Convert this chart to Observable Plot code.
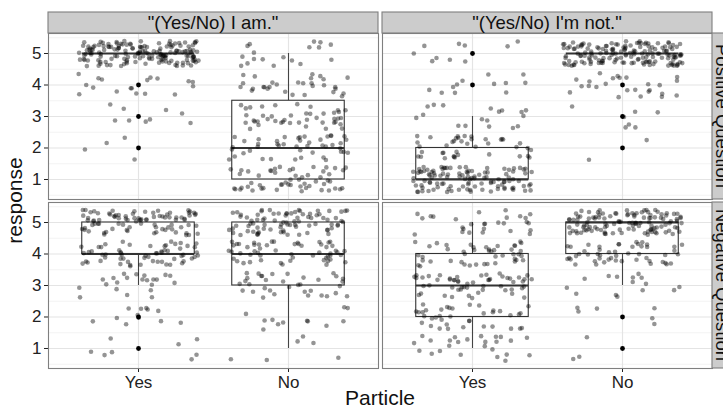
<!DOCTYPE html>
<html><head><meta charset="utf-8">
<script src="https://cdn.jsdelivr.net/npm/d3@7"></script>
<script src="https://cdn.jsdelivr.net/npm/@observablehq/plot@0.6"></script>
<style>body{margin:0;background:#fff} svg{display:block}</style>
</head><body><div id="chart"></div>
<script>
// ---- data ----
const columns = ['"(Yes/No) I am."', '"(Yes/No) I\'m not."'];
const rows = ["Positive Question", "Negative Question"];
const particles = ["Yes", "No"];
const levels = [1, 2, 3, 4, 5];
const yTicks = [1, 2, 3, 4, 5];
const yMinor = [0.5, 1.5, 2.5, 3.5, 4.5, 5.5];
// number of responses at levels 1..5 per cell
const posIAmYes   = [0, 4, 9, 18, 160];
const posIAmNo    = [55, 45, 43, 30, 18];
const posImNotYes = [111, 40, 18, 12, 10];
const posImNotNo  = [0, 2, 7, 25, 157];
const negIAmYes   = [8, 12, 22, 60, 89];
const negIAmNo    = [6, 12, 35, 55, 83];
const negImNotYes = [25, 38, 55, 45, 28];
const negImNotNo  = [3, 6, 15, 50, 117];

const cells = [
  {col: columns[0], row: rows[0], particle: "Yes", counts: posIAmYes},
  {col: columns[0], row: rows[0], particle: "No",  counts: posIAmNo},
  {col: columns[1], row: rows[0], particle: "Yes", counts: posImNotYes},
  {col: columns[1], row: rows[0], particle: "No",  counts: posImNotNo},
  {col: columns[0], row: rows[1], particle: "Yes", counts: negIAmYes},
  {col: columns[0], row: rows[1], particle: "No",  counts: negIAmNo},
  {col: columns[1], row: rows[1], particle: "Yes", counts: negImNotYes},
  {col: columns[1], row: rows[1], particle: "No",  counts: negImNotNo}
];

// deterministic jitter offsets (integer hash), emulating geom_jitter(width = .4, height = .4)
function hash01(n) {
  let x = Math.imul(n ^ 0x9e3779b9, 0x85ebca6b);
  x ^= x >>> 13; x = Math.imul(x, 0xc2b2ae35); x ^= x >>> 16;
  return (x >>> 0) / 4294967296;
}

const points = [], stats = [], outliers = [];
let k = 0;
for (const c of cells) {
  const xi = particles.indexOf(c.particle) + 1;
  const vals = [];
  c.counts.forEach((n, li) => {
    for (let j = 0; j < n; j++) {
      k++;
      vals.push(levels[li]);
      points.push({col: c.col, row: c.row, x: xi, response: levels[li],
                   jx: (hash01(2 * k + 1) * 2 - 1) * 0.4, jy: (hash01(2 * k + 7919) * 2 - 1) * 0.4});
    }
  });
  vals.sort(d3.ascending);
  const q1 = d3.quantile(vals, 0.25), med = d3.quantile(vals, 0.5), q3 = d3.quantile(vals, 0.75);
  const iqr = q3 - q1, loL = q1 - 1.5 * iqr, hiL = q3 + 1.5 * iqr;
  const lo = d3.min(vals.filter(v => v >= loL)), hi = d3.max(vals.filter(v => v <= hiL));
  stats.push({col: c.col, row: c.row, x: xi, q1, med, q3, lo, hi});
  new Set(vals.filter(v => v < loL || v > hiL)).forEach(v => outliers.push({col: c.col, row: c.row, x: xi, response: v}));
}

const font = "'Liberation Sans', Arial, Helvetica, sans-serif";
const plot = Plot.plot({
  width: 723, height: 409,
  marginLeft: 48, marginRight: 11, marginTop: 33, marginBottom: 41,
  style: {fontFamily: font, fontSize: "17px", color: "#222", background: "#fff"},
  fx: {domain: columns, padding: 0.012, axis: null},
  fy: {domain: rows, padding: 0.018, axis: null},
  x: {domain: [0.4, 2.6], ticks: [1, 2], tickFormat: d => particles[d - 1], tickSize: 4, tickPadding: 3, label: null},
  y: {domain: [0.365, 5.635], ticks: yTicks, tickFormat: d => String(d), tickSize: 4, tickPadding: 3, label: null},
  marks: [
    Plot.ruleY(yMinor, {stroke: "#f3f3f3", strokeWidth: 1}),
    Plot.ruleY(yTicks, {stroke: "#e4e4e4", strokeWidth: 1.2}),
    Plot.ruleX([1, 2], {stroke: "#e4e4e4", strokeWidth: 1.2}),
    Plot.ruleX(stats, {x: "x", y1: "lo", y2: "q1", fx: "col", fy: "row", stroke: "#444", strokeWidth: 1.1}),
    Plot.ruleX(stats, {x: "x", y1: "q3", y2: "hi", fx: "col", fy: "row", stroke: "#444", strokeWidth: 1.1}),
    Plot.rect(stats, {x1: d => d.x - 0.375, x2: d => d.x + 0.375, y1: "q1", y2: "q3", fx: "col", fy: "row",
                      fill: "white", stroke: "#333", strokeWidth: 1.1}),
    Plot.ruleY(stats, {y: "med", x1: d => d.x - 0.375, x2: d => d.x + 0.375, fx: "col", fy: "row", stroke: "#333", strokeWidth: 2.2}),
    Plot.dot(outliers, {x: "x", y: "response", fx: "col", fy: "row", r: 2.4, fill: "black", stroke: "none"}),
    Plot.dot(points, {x: d => d.x + d.jx, y: d => d.response + d.jy, fx: "col", fy: "row",
                      r: 2.3, fill: "black", fillOpacity: 0.42, stroke: "none"}),
    Plot.frame({stroke: "#7f7f7f", strokeWidth: 1.1})
  ]
});

// ---- strips and axis titles ----
const svg = d3.select(plot);
const fx = plot.scale("fx"), fy = plot.scale("fy");
const g = svg.append("g").attr("font-family", font);
for (const c of columns) {
  const x0 = fx.apply(c), w = fx.bandwidth;
  g.append("rect").attr("x", x0).attr("y", 12).attr("width", w).attr("height", 21)
    .attr("fill", "#cccccc").attr("stroke", "#7f7f7f").attr("stroke-width", 1.1);
  g.append("text").attr("x", x0 + w / 2).attr("y", 22.5).attr("dy", "0.36em")
    .attr("text-anchor", "middle").attr("font-size", 18.5).attr("fill", "#111").text(c);
}
for (const r of rows) {
  const y0 = fy.apply(r), h = fy.bandwidth;
  g.append("rect").attr("x", 712).attr("y", y0).attr("width", 21).attr("height", h)
    .attr("fill", "#cccccc").attr("stroke", "#7f7f7f").attr("stroke-width", 1.1);
  g.append("text").attr("transform", `translate(722.5,${y0 + h / 2}) rotate(90)`).attr("dy", "0.36em")
    .attr("text-anchor", "middle").attr("font-size", 18.5).attr("fill", "#111").text(r);
}
g.append("text").attr("transform", `translate(14,${(33 + 368) / 2}) rotate(-90)`).attr("dy", "0.36em")
  .attr("text-anchor", "middle").attr("font-size", 21).attr("fill", "#111").text("response");
g.append("text").attr("x", 380).attr("y", 398).attr("dy", "0.34em")
  .attr("text-anchor", "middle").attr("font-size", 21).attr("fill", "#111").text("Particle");

document.getElementById("chart").append(plot);
</script>
</body></html>
